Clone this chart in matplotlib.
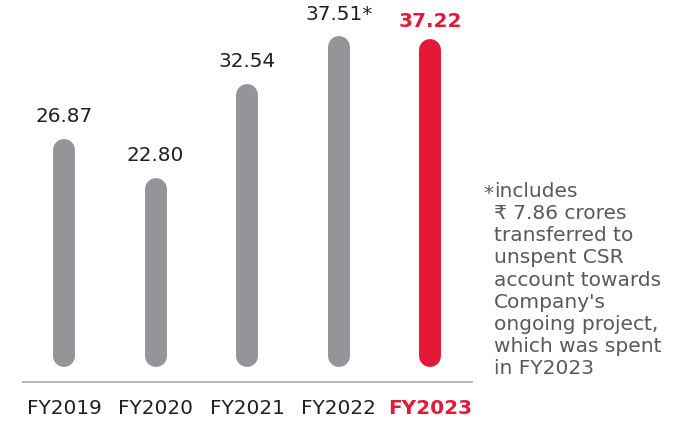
#!/usr/bin/env python3

import matplotlib.pyplot as plt

# Données : dépenses RSE (en crores)
years = ["FY2019", "FY2020", "FY2021", "FY2022", "FY2023"]
values = [26.87, 22.80, 32.54, 37.51, 37.22]
value_labels = ["26.87", "22.80", "32.54", "37.51*", "37.22"]
footnote = ("includes\n₹ 7.86 crores\ntransferred to\nunspent CSR\naccount towards\n"
            "Company's\nongoing project,\nwhich was spent\nin FY2023")

GREY = "#939598"
RED = "#E31937"
DARK = "#231F20"

plt.rcParams["font.family"] = ["DejaVu Sans", "Noto Sans"]

fig = plt.figure(figsize=(6.97, 4.22), dpi=100)
ax = fig.add_axes([23 / 697, 40 / 422, 449 / 697, 382 / 422])

bar_floor = 5.39  # début visuel des barres
colors = [GREY] * (len(values) - 1) + [RED]

# Barres arrondies dessinées comme des lignes épaisses
for i, (v, c) in enumerate(zip(values, colors)):
    ax.plot([i, i], [bar_floor, v], color=c, linewidth=15.8,
            solid_capstyle="round")
    last = i == len(values) - 1
    ax.annotate(value_labels[i], (i, v), xytext=(0, 16.5 if last else 20),
                textcoords="offset points", ha="center", va="baseline",
                fontsize=14.4, color=RED if last else DARK,
                fontweight="bold" if last else "normal")

ax.set_xlim(-0.448, 4.454)
ax.set_ylim(2.68, 42.43)

# Axe horizontal seulement
for side in ["top", "left", "right"]:
    ax.spines[side].set_visible(False)
ax.spines["bottom"].set_color("#A7A9AC")
ax.spines["bottom"].set_linewidth(1.2)
ax.set_yticks([])
ax.set_xticks(range(len(years)))
ax.set_xticklabels(years, fontsize=14.4, color=DARK)
ax.tick_params(axis="x", length=0, pad=12)
last_tick = ax.get_xticklabels()[-1]
last_tick.set_color(RED)
last_tick.set_fontweight("bold")

# Note de bas
fig.text(483 / 697, 1 - 184 / 422, "*", fontsize=14.5, color="#58595B", va="top")
fig.text(494 / 697, 1 - 182 / 422, footnote, fontsize=14.5, color="#58595B",
         va="top", ha="left", linespacing=1.21)

fig.savefig("out.png", dpi=100)
